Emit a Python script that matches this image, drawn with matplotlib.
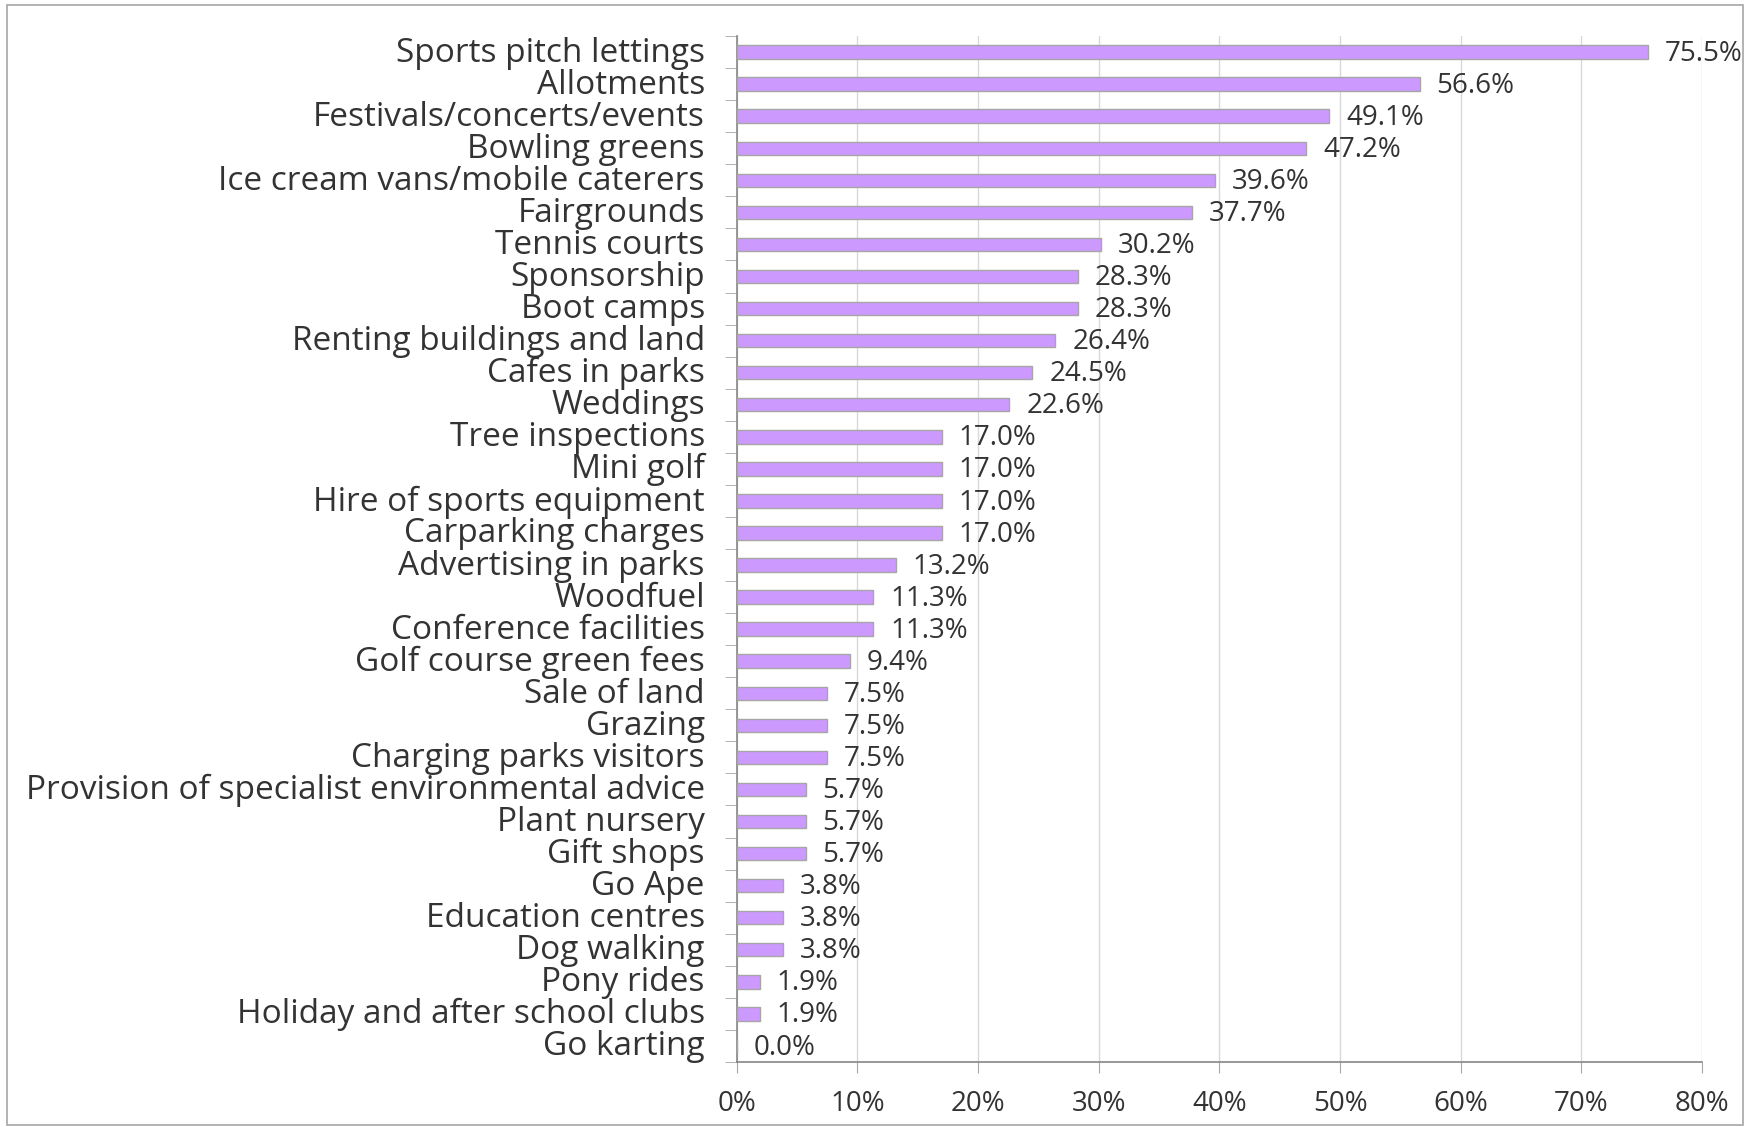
import matplotlib.pyplot as plt
import matplotlib.patches as mpatches
import matplotlib.transforms as mtransforms
from matplotlib.ticker import FuncFormatter

plt.rcParams['font.family'] = ['Open Sans', 'DejaVu Sans']

categories = [
    "Sports pitch lettings", "Allotments", "Festivals/concerts/events",
    "Bowling greens", "Ice cream vans/mobile caterers", "Fairgrounds",
    "Tennis courts", "Sponsorship", "Boot camps", "Renting buildings and land",
    "Cafes in parks", "Weddings", "Tree inspections", "Mini golf",
    "Hire of sports equipment", "Carparking charges", "Advertising in parks",
    "Woodfuel", "Conference facilities", "Golf course green fees",
    "Sale of land", "Grazing", "Charging parks visitors",
    "Provision of specialist environmental advice", "Plant nursery",
    "Gift shops", "Go Ape", "Education centres", "Dog walking",
    "Pony rides", "Holiday and after school clubs", "Go karting",
]
values = [75.5, 56.6, 49.1, 47.2, 39.6, 37.7, 30.2, 28.3, 28.3, 26.4,
          24.5, 22.6, 17.0, 17.0, 17.0, 17.0, 13.2, 11.3, 11.3, 9.4,
          7.5, 7.5, 7.5, 5.7, 5.7, 5.7, 3.8, 3.8, 3.8, 1.9, 1.9, 0.0]
xticks = [0, 10, 20, 30, 40, 50, 60, 70, 80]

fig = plt.figure(figsize=(17.5, 11.27), dpi=100)
ax = fig.add_axes([0.421, 0.0577, 0.5516, 0.9103])

n = len(categories)
ypos = list(range(n))
ax.barh(ypos, values, height=0.42, color="#CC99FF", edgecolor="#A6A6A6", linewidth=1, zorder=3)

for y, v in zip(ypos, values):
    ax.text(v + 1.4, y + 0.05, f"{v:.1f}%", va="center", ha="left",
            fontsize=20, color="#333333")

ax.set_ylim(n - 0.5, -0.5)
ax.set_xlim(0, 80)
ax.set_yticks(ypos)
ax.set_yticklabels(categories, fontsize=24, color="#333333")
ax.tick_params(axis="y", length=0, pad=23)
# nudge category labels up a little
shift = mtransforms.ScaledTranslation(0, 0.03, fig.dpi_scale_trans)
for lbl in ax.get_yticklabels():
    lbl.set_transform(lbl.get_transform() + shift)
# tick marks between categories
ax.set_yticks([i - 0.5 for i in range(n + 1)], minor=True)
ax.tick_params(axis="y", which="minor", length=9, color="#A6A6A6", direction="out")

ax.set_xticks(xticks)
ax.xaxis.set_major_formatter(FuncFormatter(lambda x, p: f"{x:.0f}%"))
ax.tick_params(axis="x", labelsize=20, labelcolor="#333333", length=8,
               color="#A6A6A6", pad=12)

ax.grid(axis="x", color="#D9D9D9", linewidth=1, zorder=0)
ax.set_axisbelow(True)
for s in ["top", "right"]:
    ax.spines[s].set_visible(False)
ax.spines["left"].set_color("#868686")
ax.spines["bottom"].set_color("#868686")
ax.spines["left"].set_linewidth(1.2)
ax.spines["bottom"].set_linewidth(1.2)

# outer frame
fig.patches.append(mpatches.Rectangle((7 / 1750, 0.002), 1736 / 1750, 1 - 5 / 1127 - 0.002,
                                      transform=fig.transFigure, fill=False,
                                      edgecolor="#A6A6A6", linewidth=1.2))

fig.savefig("out.png", dpi=100)
